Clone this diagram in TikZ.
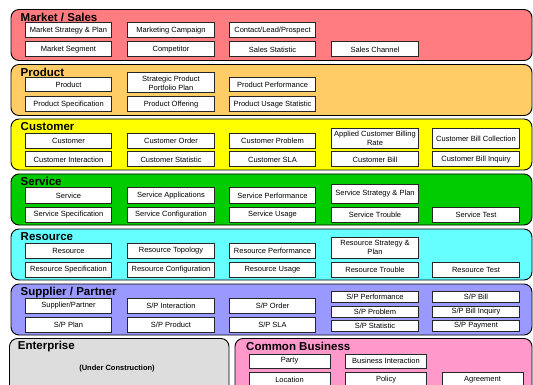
\documentclass[tikz,border=0pt]{standalone}
\usepackage{fontspec}
\setmainfont{Liberation Sans}
\definecolor{mktred}{HTML}{FF7C80}
\definecolor{prodorange}{HTML}{FFCC66}
\definecolor{custyellow}{HTML}{FFFF00}
\definecolor{svcgreen}{HTML}{00CC00}
\definecolor{rescyan}{HTML}{66FFFF}
\definecolor{supblue}{HTML}{9999FF}
\definecolor{entgray}{HTML}{DDDDDD}
\definecolor{cbpink}{HTML}{FF99CC}
\tikzset{
	band/.style={draw=black, line width=0.9pt, rounded corners=8pt},
	entity/.style={draw=black!85, fill=white, line width=1pt, inner sep=0pt, align=center, font=\fontsize{7.5}{9}\selectfont},
	bandtitle/.style={anchor=base west, inner sep=0pt, font=\fontsize{11.5}{13}\selectfont\bfseries}
}
\begin{document}
\begin{tikzpicture}[x=1pt, y=-1pt]
				\useasboundingbox (0,0) rectangle (533,385);
				\clip (0,0) rectangle (533,385);
				\foreach \top/\col/\n/\t in {9.5/mktred/market/{Market / Sales}, 64.5/prodorange/product/Product, 119/custyellow/customer/Customer, 174/svcgreen/service/Service, 229/rescyan/resource/Resource, 284/supblue/supplier/{Supplier / Partner}}{
					\draw[band, fill=\col] (11,\top) rectangle (532,\top+51);
					\node[bandtitle] (\n) at (20.5,\top+11.8) {\t};
				}
				\draw[band, fill=entgray] (9.5,338.5) rectangle (229,400);
				\draw[band, fill=cbpink] (235,338.5) rectangle (532,400);
				\node[bandtitle] (enterprise) at (17.7,349.8) {Enterprise};
				\node[bandtitle] (common) at (246,350) {Common Business};
				\node[inner sep=0pt, font=\fontsize{7.5}{9}\selectfont\bfseries] (construction) at (117,369) {(Under Construction)};
			
				\foreach \x/\y/\h/\n/\t in {
					68.5/30.5/15/ms1/{Market Strategy \& Plan}, 171/30.5/15/ms2/{Marketing Campaign}, 272.5/30.5/15/ms3/{Contact/Lead/Prospect},
					68.5/49.5/15/ms4/{Market Segment}, 171/49.5/15/ms5/Competitor, 272.5/49.5/15/ms6/{Sales Statistic}, 375/49.5/15/ms7/{Sales Channel},
					68.5/85/14/pr1/Product, 171/83/20/pr2/{Strategic Product\\Portfolio Plan}, 272.5/85/14/pr3/{Product Performance},
					68.5/104.5/15/pr4/{Product Specification}, 171/104.5/15/pr5/{Product Offering}, 272.5/104.5/15/pr6/{Product Usage Statistic},
					68.5/141/14.5/cu1/Customer, 171/141/14.5/cu2/{Customer Order}, 272.5/141/14.5/cu3/{Customer Problem}, 375/138.5/20/cu4/{Applied Customer Billing\\Rate}, 476/138.5/20/cu5/{Customer Bill Collection},
					68.5/159.5/15/cu6/{Customer Interaction}, 171/159.5/15/cu7/{Customer Statistic}, 272.5/159.5/15/cu8/{Customer SLA}, 375/159.5/15/cu9/{Customer Bill}, 476/159.5/15/cu10/{Customer Bill Inquiry},
					68.5/195.5/15/sv1/Service, 171/195.5/15/sv2/{Service Applications}, 272.5/195.5/15/sv3/{Service Performance}, 375/194/18/sv4/{Service Strategy \& Plan},
					68.5/214.5/15/sv5/{Service Specification}, 171/214.5/15/sv6/{Service Configuration}, 272.5/214.5/15/sv7/{Service Usage}, 375/214.5/15/sv8/{Service Trouble}, 476/214.5/15/sv9/{Service Test},
					68.5/250.5/15/rs1/Resource, 171/250.5/15/rs2/{Resource Topology}, 272.5/250.5/15/rs3/{Resource Performance}, 375/247.5/21/rs4/{Resource Strategy \&\\Plan},
					68.5/269.5/15/rs5/{Resource Specification}, 171/269.5/15/rs6/{Resource Configuration}, 272.5/269.5/15/rs7/{Resource Usage}, 375/269.5/15/rs8/{Resource Trouble}, 476/269.5/15/rs9/{Resource Test},
					68.5/305.5/15/sp1/{Supplier/Partner}, 171/305.5/15/sp2/{S/P Interaction}, 272.5/305.5/15/sp3/{S/P Order},
					68.5/324.5/15/sp4/{S/P Plan}, 171/324.5/15/sp5/{S/P Product}, 272.5/324.5/15/sp6/{S/P SLA},
					375/297/10.5/sp7/{S/P Performance}, 375/312/10.5/sp8/{S/P Problem}, 375/326/10.5/sp9/{S/P Statistic},
					476/297/10.5/sp10/{S/P Bill}, 476/312/10.5/sp11/{S/P Bill Inquiry}, 476/326/10.5/sp12/{S/P Payment}}{
					\node[entity, minimum width=86.5pt, minimum height=\h pt] (\n) at (\x,\y) {\t};
				}
			
				\foreach \x/\y/\h/\n/\t in {289.5/361/14/cb1/Party, 386/361/14/cb2/{Business Interaction}, 289.5/379.5/15/cb3/Location, 386/379.5/15/cb4/Policy, 482.5/379.5/15/cb5/Agreement}{
					\node[entity, minimum width=81pt, minimum height=\h pt] (\n) at (\x,\y) {\t};
				}
			\end{tikzpicture}
\end{document}
